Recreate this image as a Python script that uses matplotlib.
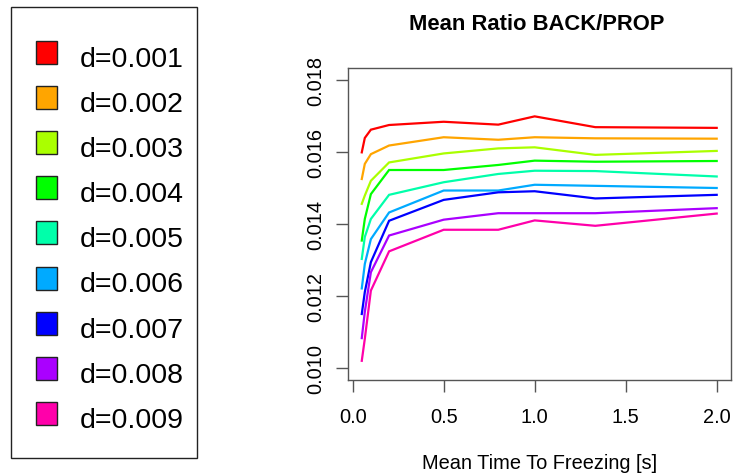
import matplotlib
matplotlib.use("Agg")
import matplotlib.pyplot as plt
from matplotlib.patches import Rectangle

# ---- data ----
times = [0.05, 0.0667, 0.1, 0.2, 0.5, 0.8, 1.0, 1.333, 2.0]
labels = ["d=0.001", "d=0.002", "d=0.003", "d=0.004", "d=0.005",
          "d=0.006", "d=0.007", "d=0.008", "d=0.009"]
colors = ["#FF0000", "#FFA500", "#AAFF00", "#00FF00", "#00FFAA",
          "#00AAFF", "#0000FF", "#AA00FF", "#FF00AA"]
d001 = [0.01599, 0.01639, 0.01662, 0.01675, 0.01684, 0.01676, 0.01699, 0.01669, 0.01667]
d002 = [0.01525, 0.01567, 0.01594, 0.01618, 0.01641, 0.01634, 0.01641, 0.01638, 0.01637]
d003 = [0.01456, 0.01479, 0.01520, 0.01571, 0.01596, 0.01610, 0.01613, 0.01592, 0.01603]
d004 = [0.01354, 0.01414, 0.01483, 0.01550, 0.01550, 0.01564, 0.01576, 0.01573, 0.01575]
d005 = [0.01303, 0.01364, 0.01414, 0.01481, 0.01516, 0.01539, 0.01548, 0.01547, 0.01532]
d006 = [0.01221, 0.01289, 0.01358, 0.01432, 0.01493, 0.01493, 0.01509, 0.01506, 0.01500]
d007 = [0.01150, 0.01211, 0.01294, 0.01409, 0.01467, 0.01488, 0.01491, 0.01471, 0.01481]
d008 = [0.01083, 0.01156, 0.01266, 0.01368, 0.01412, 0.01430, 0.01430, 0.01430, 0.01444]
d009 = [0.01020, 0.01081, 0.01215, 0.01324, 0.01384, 0.01384, 0.01410, 0.01395, 0.01429]
series = [d001, d002, d003, d004, d005, d006, d007, d008, d009]
xticks = [0.0, 0.5, 1.0, 1.5, 2.0]
xticklabels = ["0.0", "0.5", "1.0", "1.5", "2.0"]
yticks = [0.010, 0.012, 0.014, 0.016, 0.018]
yticklabels = ["0.010", "0.012", "0.014", "0.016", "0.018"]

# ---- figure ----
W, H = 733, 477
DPI = 100
plt.rcParams['font.family'] = ['Liberation Sans', 'DejaVu Sans']
fig = plt.figure(figsize=(W / DPI, H / DPI), dpi=DPI)

def px(x0, y0, x1, y1):
    return [x0 / W, 1 - y1 / H, (x1 - x0) / W, (y1 - y0) / H]

ax = fig.add_axes(px(348.3, 69.3, 731, 380.7))
for s, c in zip(series, colors):
    ax.plot(times, s, color=c, lw=1.6, solid_joinstyle='miter')

ax.set_xlim(-0.024, 2.0786)
ax.set_ylim(0.009675, 0.018325)
ax.set_xticks(xticks)
ax.set_xticklabels(xticklabels)
ax.set_yticks(yticks)
ax.set_yticklabels(yticklabels, rotation=90, va='center')
spine_col = '#555555'
for sp in ax.spines.values():
    sp.set_color(spine_col)
    sp.set_linewidth(1.0)
ax.tick_params(axis='both', direction='out', length=8.5, width=1.0,
               color=spine_col, labelsize=14.4, labelcolor='black')
ax.tick_params(axis='x', pad=11.5)
ax.tick_params(axis='y', pad=8)

ax.set_title("Mean Ratio BACK/PROP", fontsize=15.8, fontweight='bold',
             pad=28, x=0.492)
ax.set_xlabel("Mean Time To Freezing [s]", fontsize=14.4, labelpad=19)

# ---- legend (drawn panel on the left) ----
fig.patches.append(Rectangle((11 / W, 1 - 459 / H), (197 - 11) / W, (459 - 8) / H,
                             transform=fig.transFigure, fill=False,
                             edgecolor='#222222', lw=1.0))
step = 45.1
for i, (lab, c) in enumerate(zip(labels, colors)):
    top = 42 + i * step
    fig.patches.append(Rectangle((36 / W, 1 - (top + 23) / H), 21 / W, 23 / H,
                                 transform=fig.transFigure, facecolor=c,
                                 edgecolor='#222222', lw=1.0))
    fig.text(80 / W, 1 - (67 + i * step) / H, lab, fontsize=20.5,
             ha='left', va='baseline')

fig.savefig("out.png", dpi=DPI)
